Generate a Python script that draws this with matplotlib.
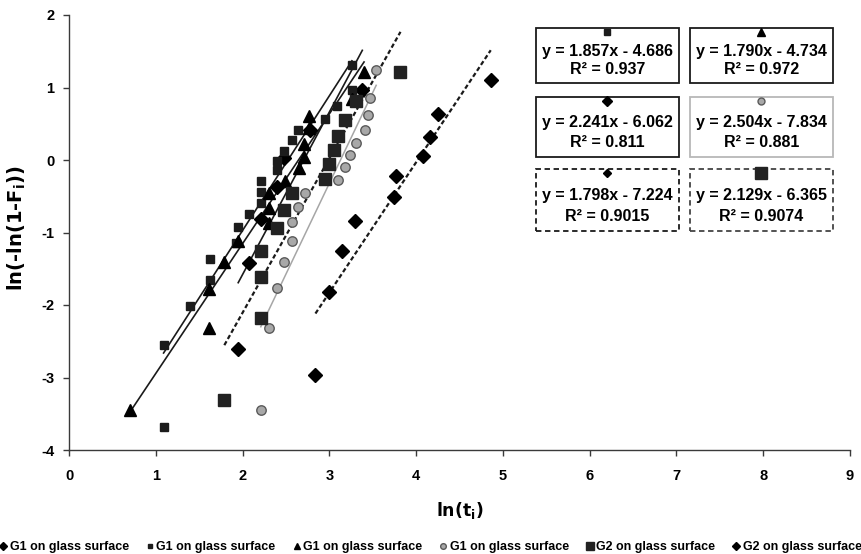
import matplotlib
matplotlib.use('Agg')

import matplotlib.pyplot as plt
import numpy as np
from matplotlib.patches import Rectangle
from matplotlib.lines import Line2D

plt.rcParams['mathtext.default'] = 'regular'
plt.rcParams['axes.unicode_minus'] = False

# ---- data (x = ln(t_i), y = ln(-ln(1-F_i))) ----
g1_dia_x = [1.95, 2.08, 2.21, 2.40, 2.48, 2.78, 3.38]
g1_dia_y = [-2.60, -1.42, -0.82, -0.37, 0.03, 0.42, 0.97]

g1_sq_x = [1.09, 1.10, 1.39, 1.62, 1.62, 1.93, 1.95, 2.08, 2.21, 2.21,
           2.21, 2.40, 2.40, 2.48, 2.57, 2.64, 2.95, 3.09, 3.26, 3.26]
g1_sq_y = [-3.68, -2.55, -2.01, -1.65, -1.37, -1.14, -0.93, -0.75, -0.59, -0.44,
           -0.29, -0.14, -0.01, 0.12, 0.27, 0.42, 0.57, 0.75, 0.97, 1.31]

g1_tri_x = [0.70, 1.61, 1.61, 1.79, 1.95, 2.30, 2.30, 2.30,
            2.49, 2.65, 2.71, 2.71, 2.77, 2.77, 3.26, 3.40]
g1_tri_y = [-3.45, -2.32, -1.78, -1.41, -1.12, -0.87, -0.66, -0.46,
            -0.29, -0.11, 0.04, 0.22, 0.44, 0.61, 0.84, 1.22]

g1_circ_x = [2.21, 2.31, 2.40, 2.48, 2.57, 2.57, 2.64, 2.72,
             3.10, 3.18, 3.24, 3.31, 3.41, 3.44, 3.47, 3.54]
g1_circ_y = [-3.45, -2.32, -1.77, -1.40, -1.12, -0.85, -0.65, -0.46,
             -0.27, -0.10, 0.07, 0.24, 0.42, 0.62, 0.86, 1.24]

g2_sq_x = [1.79, 2.21, 2.21, 2.21, 2.40, 2.48, 2.57, 2.95, 3.00, 3.05, 3.10, 3.18, 3.31, 3.82]
g2_sq_y = [-3.31, -2.18, -1.62, -1.25, -0.94, -0.69, -0.46, -0.26, -0.06, 0.14, 0.33, 0.55, 0.81, 1.21]

g2_dia_x = [2.84, 3.00, 3.15, 3.30, 3.74, 3.77, 4.08, 4.16, 4.25, 4.86]
g2_dia_y = [-2.97, -1.82, -1.25, -0.84, -0.51, -0.22, 0.05, 0.32, 0.63, 1.10]

# linear fits as printed on the chart
slopes = [2.241, 1.857, 1.790, 2.504, 2.129, 1.798]
intercepts = [-6.062, -4.686, -4.734, -7.834, -6.365, -7.224]
r2_values = ['0.811', '0.937', '0.972', '0.881', '0.9074', '0.9015']

legend_labels = ['G1 on glass surface', 'G1 on glass surface', 'G1 on glass surface',
                 'G1 on glass surface', 'G2 on glass surface', 'G2 on glass surface']

xs_all = [g1_dia_x, g1_sq_x, g1_tri_x, g1_circ_x, g2_sq_x, g2_dia_x]
ys_all = [g1_dia_y, g1_sq_y, g1_tri_y, g1_circ_y, g2_sq_y, g2_dia_y]

# marker / trendline styles, same order as above
styles = [
    dict(marker='D', ms=7.4, mfc='black', mec='black'),
    dict(marker='s', ms=5.2, mfc='#1c1c1c', mec='#1c1c1c'),
    dict(marker='^', ms=8.2, mfc='black', mec='black'),
    dict(marker='o', ms=6.8, mfc='#a8a8a8', mec='#5a5a5a'),
    dict(marker='s', ms=8.6, mfc='#222222', mec='#222222'),
    dict(marker='D', ms=7.4, mfc='black', mec='black'),
]
line_styles = [
    dict(color='#1a1a1a', ls='-', lw=1.2),
    dict(color='#1a1a1a', ls='-', lw=1.2),
    dict(color='#1a1a1a', ls='-', lw=1.2),
    dict(color='#a6a6a6', ls='-', lw=1.1),
    dict(color='#1a1a1a', ls=(0, (2, 1.2)), lw=1.6),
    dict(color='#1a1a1a', ls=(0, (2, 1.2)), lw=1.6),
]

fig = plt.figure(figsize=(8.62, 5.54), dpi=100)
ax = fig.add_axes([69 / 862, 1 - 450 / 554, (850 - 69) / 862, 435 / 554])

for x, y, st, ls, m, b in zip(xs_all, ys_all, styles, line_styles, slopes, intercepts):
    xl = np.array([min(x), max(x)])
    ax.plot(xl, m * xl + b, zorder=2, **ls)
    ax.plot(x, y, linestyle='none', zorder=3, **st)

ax.set_xlim(0, 9)
ax.set_ylim(-4, 2)
ax.set_xticks(range(0, 10))
ax.set_yticks(range(-4, 3))
for side in ['top', 'right']:
    ax.spines[side].set_visible(False)
for side in ['left', 'bottom']:
    ax.spines[side].set_color('#3a3a3a')
    ax.spines[side].set_linewidth(1.0)
ax.tick_params(direction='out', length=4.5, width=1, color='#3a3a3a')
ax.tick_params(axis='y', pad=6)
ax.tick_params(axis='x', pad=9)
for lab in ax.get_xticklabels() + ax.get_yticklabels():
    lab.set_fontfamily('Liberation Sans')
    lab.set_fontweight('bold')
    lab.set_fontsize(10.5)

ax.set_xlabel(r'ln(t$_\mathregular{i}$)', fontsize=12.5, fontweight='bold', family='DejaVu Sans')
ax.set_ylabel(r'ln(-ln(1-F$_\mathregular{i}$))', fontsize=14, fontweight='bold', family='DejaVu Sans')
ax.xaxis.set_label_coords(0.5, -0.115)
ax.yaxis.set_label_coords(-0.053, 0.51)

# equation boxes (axes fraction), order: sq1, tri / dia1, circ / dia2, sq2
box_cols = [(0.598, 0.781), (0.795, 0.978)]
box_rows = [(0.844, 0.970), (0.674, 0.811), (0.503, 0.646)]
box_series = [[1, 2], [0, 3], [5, 4]]
box_edges = [[('#1a1a1a', '-'), ('#1a1a1a', '-')],
             [('#1a1a1a', '-'), ('#b8b8b8', '-')],
             [('#1a1a1a', (0, (3, 2))), ('#444444', (0, (3, 2)))]]
mk_small = {0: 5.5, 1: 4.5, 2: 6.0, 3: 5.0, 4: 8.0, 5: 4.5}

for r, (y0, y1) in enumerate(box_rows):
    for c, (x0, x1) in enumerate(box_cols):
        i = box_series[r][c]
        ec, els = box_edges[r][c]
        ax.add_patch(Rectangle((x0, y0), x1 - x0, y1 - y0, transform=ax.transAxes,
                               fill=True, fc='white', ec=ec, ls=els, lw=1.3,
                               clip_on=False, zorder=4))
        xc = (x0 + x1) / 2
        h = y1 - y0
        st = dict(styles[i])
        st['ms'] = mk_small[i]
        ax.plot([xc], [y1 - 0.07 * h], transform=ax.transAxes, clip_on=False,
                zorder=5, linestyle='none', **st)
        sign = '-' if intercepts[i] < 0 else '+'
        eq = f'y = {slopes[i]:.3f}x {sign} {abs(intercepts[i]):.3f}'
        ax.text(xc, y1 - 0.42 * h, eq, transform=ax.transAxes, ha='center', va='center',
                fontsize=11.5, fontweight='bold', family='Liberation Sans', zorder=5)
        ax.text(xc, y1 - 0.76 * h, f'R² = {r2_values[i]}', transform=ax.transAxes,
                ha='center', va='center', fontsize=11.5, fontweight='bold',
                family='Liberation Sans', zorder=5)

# legend at the bottom
handles = []
for i, st in enumerate(styles):
    s = dict(st)
    s['ms'] = st['ms'] * 0.6
    handles.append(Line2D([], [], linestyle='none', **s))
fig.legend(handles, legend_labels, loc='lower center', bbox_to_anchor=(0.5, -0.012),
           ncol=6, frameon=False, handlelength=0.5, handletextpad=0.25,
           columnspacing=1.45, borderaxespad=0.2,
           prop=dict(family='Liberation Sans', weight='bold', size=9))

fig.savefig('out.png', dpi=100)
